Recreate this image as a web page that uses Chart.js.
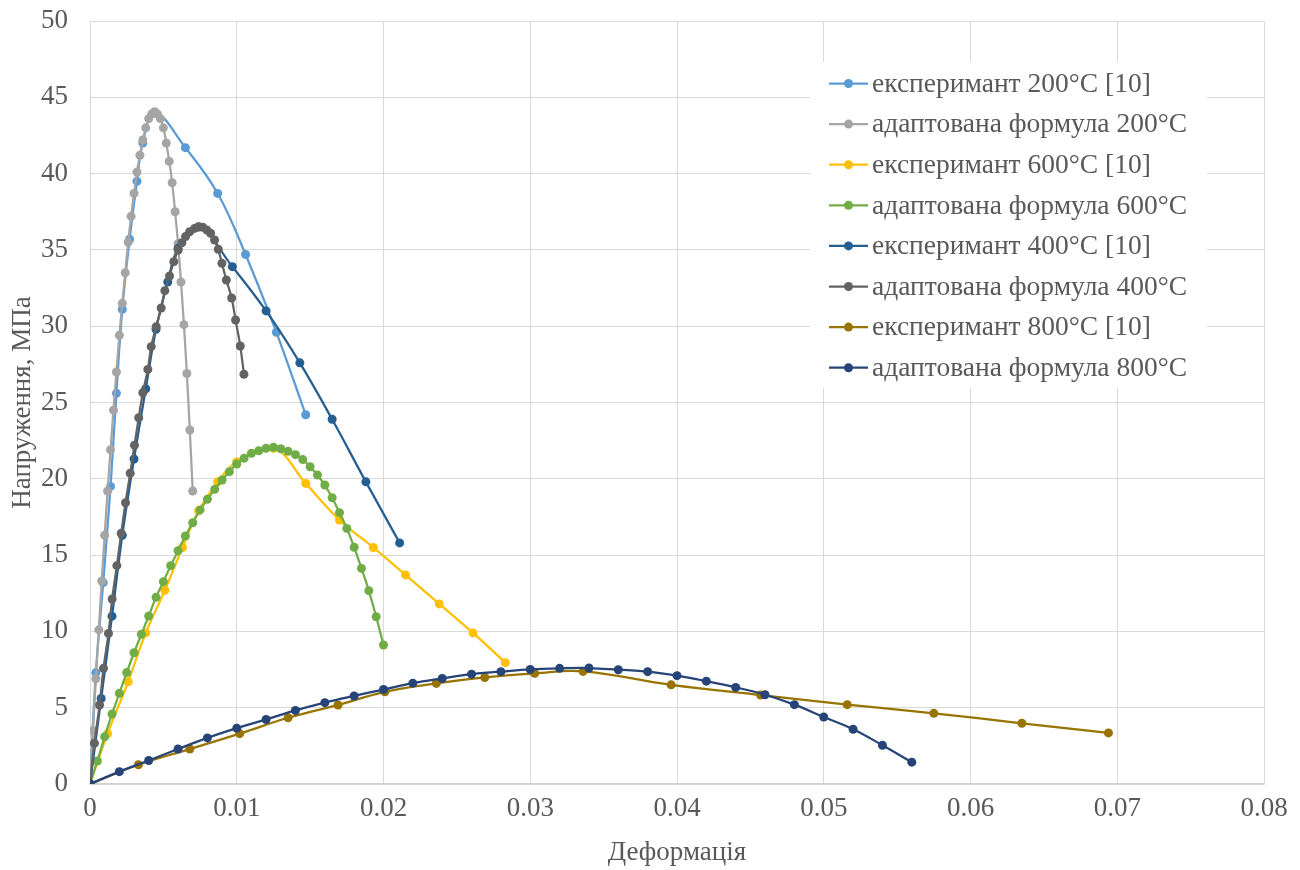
<!DOCTYPE html>
<html>
<head>
<meta charset="utf-8">
<script src="https://cdn.jsdelivr.net/npm/chart.js@4.4.1/dist/chart.umd.min.js"></script>
<style>
    html, body { margin: 0; padding: 0; background: #fff; }
    #wrap { width: 1300px; height: 870px; }
</style>
</head>
<body>
<div id="wrap"><canvas id="stressChart"></canvas></div>
<script>
// Series data (strain, stress in MPa)
const exp200X = [0, 0.0004, 0.0009, 0.0014, 0.0018, 0.0022, 0.0027, 0.0032, 0.0036, 0.0044, 0.0065, 0.0087, 0.0106, 0.0127, 0.0147];
const exp200Y = [0, 7.3, 13.2, 19.5, 25.6, 31.1, 35.7, 39.5, 42.0, 44.0, 41.7, 38.7, 34.7, 29.6, 24.2];

const form200X = [0, 0.0002, 0.0004, 0.0006, 0.0008, 0.001, 0.0012, 0.0014, 0.0016, 0.0018, 0.002, 0.0022, 0.0024, 0.0026, 0.0028, 0.003, 0.0032, 0.0034, 0.0036, 0.0038, 0.004, 0.0042, 0.0044, 0.0046, 0.0048, 0.005, 0.0052, 0.0054, 0.0056, 0.0058, 0.006, 0.0062, 0.0064, 0.0066, 0.0068, 0.007];
const form200Y = [0, 3.5, 6.9, 10.1, 13.3, 16.3, 19.2, 21.9, 24.5, 27.0, 29.4, 31.5, 33.5, 35.5, 37.2, 38.7, 40.1, 41.2, 42.2, 43.0, 43.6, 43.9, 44.06, 43.9, 43.6, 43.0, 42.0, 40.8, 39.4, 37.5, 35.4, 32.9, 30.1, 26.9, 23.2, 19.2];

const exp600X = [0, 0.0012, 0.0026, 0.0038, 0.0051, 0.0063, 0.0074, 0.0087, 0.0100, 0.0125, 0.0147, 0.0170, 0.0193, 0.0215, 0.0238, 0.0261, 0.0283];
const exp600Y = [0, 3.3, 6.7, 9.9, 12.7, 15.5, 17.9, 19.8, 21.1, 22.0, 19.7, 17.3, 15.5, 13.7, 11.8, 9.9, 7.95];

const form600X = [0, 0.0005, 0.001, 0.0015, 0.002, 0.0025, 0.003, 0.0035, 0.004, 0.0045, 0.005, 0.0055, 0.006, 0.0065, 0.007, 0.0075, 0.008, 0.0085, 0.009, 0.0095, 0.010, 0.0105, 0.011, 0.0115, 0.012, 0.0125, 0.013, 0.0135, 0.014, 0.0145, 0.015, 0.0155, 0.016, 0.0165, 0.017, 0.0175, 0.018, 0.0185, 0.019, 0.0195, 0.020];
const form600Y = [0, 1.51, 3.1, 4.59, 5.94, 7.3, 8.6, 9.81, 11.01, 12.23, 13.26, 14.31, 15.29, 16.25, 17.12, 17.96, 18.66, 19.31, 19.92, 20.47, 20.97, 21.34, 21.67, 21.84, 22.0, 22.06, 21.97, 21.8, 21.58, 21.26, 20.79, 20.25, 19.59, 18.76, 17.78, 16.75, 15.51, 14.13, 12.67, 10.96, 9.11];

const exp400X = [0, 0.00076, 0.0015, 0.0022, 0.0030, 0.0038, 0.0045, 0.0053, 0.0060, 0.0074, 0.0097, 0.0120, 0.0143, 0.0165, 0.0188, 0.0211];
const exp400Y = [0, 5.6, 11.0, 16.3, 21.3, 25.9, 29.8, 32.9, 35.1, 36.5, 33.9, 31.0, 27.6, 23.9, 19.8, 15.8];

const form400X = [0, 0.0003, 0.00065, 0.00092, 0.00126, 0.00151, 0.00183, 0.00213, 0.00242, 0.00274, 0.00303, 0.00332, 0.0036, 0.00394, 0.00417, 0.00451, 0.00485, 0.0051, 0.00542, 0.00571, 0.00601, 0.00626, 0.00651, 0.00679, 0.00713, 0.0074, 0.00769, 0.00797, 0.00822, 0.00849, 0.00874, 0.00899, 0.00929, 0.00965, 0.00992, 0.01024, 0.01049];
const form400Y = [0, 2.67, 5.18, 7.58, 9.87, 12.12, 14.31, 16.43, 18.43, 20.36, 22.2, 24.0, 25.64, 27.17, 28.66, 29.97, 31.19, 32.33, 33.29, 34.23, 34.99, 35.47, 35.87, 36.19, 36.41, 36.52, 36.48, 36.3, 36.09, 35.65, 35.04, 34.12, 33.03, 31.85, 30.41, 28.7, 26.85];

const exp800X = [0, 0.0033, 0.0068, 0.0102, 0.0135, 0.0169, 0.0201, 0.0236, 0.0269, 0.0303, 0.0336, 0.0396, 0.0457, 0.0516, 0.0575, 0.0635, 0.0694];
const exp800Y = [0, 1.26, 2.29, 3.30, 4.34, 5.18, 6.04, 6.59, 6.98, 7.25, 7.38, 6.5, 5.83, 5.2, 4.63, 3.98, 3.35];

const form800X = [0, 0.002, 0.004, 0.006, 0.008, 0.010, 0.012, 0.014, 0.016, 0.018, 0.020, 0.022, 0.024, 0.026, 0.028, 0.030, 0.032, 0.034, 0.036, 0.038, 0.040, 0.042, 0.044, 0.046, 0.048, 0.050, 0.052, 0.054, 0.056];
const form800Y = [0, 0.81, 1.54, 2.29, 3.02, 3.66, 4.23, 4.82, 5.33, 5.77, 6.19, 6.61, 6.92, 7.2, 7.36, 7.51, 7.58, 7.6, 7.49, 7.36, 7.1, 6.74, 6.33, 5.85, 5.2, 4.39, 3.59, 2.54, 1.43];

const seriesLabels = [
    "експеримант 200°C [10]",
    "адаптована формула 200°C",
    "експеримант 600°C [10]",
    "адаптована формула 600°C",
    "експеримант 400°C [10]",
    "адаптована формула 400°C",
    "експеримант 800°C [10]",
    "адаптована формула 800°C"
];
const seriesColors = ["#5b9bd5", "#a5a5a5", "#ffc000", "#70ad47", "#255e91", "#636363", "#997300", "#264478"];
const seriesX = [exp200X, form200X, exp600X, form600X, exp400X, form400X, exp800X, form800X];
const seriesY = [exp200Y, form200Y, exp600Y, form600Y, exp400Y, form400Y, exp800Y, form800Y];

const xTicksMax = 0.08;
const yTicksMax = 50;

const FONT = "'Liberation Serif', 'Times New Roman', serif";
const TEXT_COLOR = "#595959";
const GRID_COLOR = "#d9d9d9";
const FONT_SIZE = 27;

const datasets = seriesLabels.map((label, i) => ({
    label: label,
    data: seriesX[i].map((x, j) => ({ x: x, y: seriesY[i][j] })),
    borderColor: seriesColors[i],
    backgroundColor: seriesColors[i],
    borderWidth: 2.25,
    pointRadius: 4.5,
    pointBorderWidth: 0,
    pointHoverRadius: 4.5,
    tension: 0.4,
    showLine: true,
    // Excel draws later series on top
    order: seriesLabels.length - i
}));

// Legend drawn inside the plot area, like the Excel one
const insideLegend = {
    id: "insideLegend",
    afterDraw(chart) {
        const ctx = chart.ctx;
        const box = { left: 810, top: 62, width: 397, height: 326 };
        const rowH = 40.6;
        const firstY = 83.5;
        ctx.save();
        ctx.fillStyle = "#ffffff";
        ctx.fillRect(box.left, box.top, box.width, box.height);
        ctx.font = "27.5px " + FONT;
        ctx.textBaseline = "middle";
        ctx.textAlign = "left";
        chart.data.datasets.forEach((ds, i) => {
            const y = firstY + i * rowH;
            ctx.strokeStyle = ds.borderColor;
            ctx.lineWidth = 2.25;
            ctx.beginPath();
            ctx.moveTo(829, y);
            ctx.lineTo(868, y);
            ctx.stroke();
            ctx.fillStyle = ds.backgroundColor;
            ctx.beginPath();
            ctx.arc(848.5, y, 4.5, 0, Math.PI * 2);
            ctx.fill();
            ctx.fillStyle = TEXT_COLOR;
            ctx.fillText(ds.label, 872, y + 1);
        });
        ctx.restore();
    }
};

const ctx = document.getElementById("stressChart").getContext("2d");
const stressChart = new Chart(ctx, {
    type: "scatter",
    data: { datasets: datasets },
    plugins: [insideLegend],
    options: {
        responsive: true,
        maintainAspectRatio: false,
        animation: false,
        layout: {
            padding: { top: 21, right: 36, left: 0, bottom: 0 }
        },
        plugins: {
            legend: { display: false },
            tooltip: { enabled: false }
        },
        scales: {
            x: {
                type: "linear",
                min: 0,
                max: xTicksMax,
                afterFit: (scale) => { scale.height = 86; },
                ticks: {
                    stepSize: 0.01,
                    padding: 9,
                    color: TEXT_COLOR,
                    font: { family: FONT, size: FONT_SIZE },
                    maxRotation: 0,
                    callback: (v) => String(+v.toFixed(2))
                },
                grid: { color: GRID_COLOR, lineWidth: 1, drawTicks: false },
                border: { color: "#d0d0d0", width: 1.5 },
                title: {
                    display: true,
                    text: "Деформація",
                    color: TEXT_COLOR,
                    font: { family: FONT, size: FONT_SIZE },
                    padding: { top: 0, bottom: 1 }
                }
            },
            y: {
                type: "linear",
                min: 0,
                max: yTicksMax,
                afterFit: (scale) => {
                    scale.width = 90;
                    scale.paddingTop = 0;
                    scale.paddingBottom = 0;
                },
                ticks: {
                    stepSize: 5,
                    padding: 22,
                    color: TEXT_COLOR,
                    font: { family: FONT, size: FONT_SIZE }
                },
                grid: { color: GRID_COLOR, lineWidth: 1, drawTicks: false },
                border: { color: GRID_COLOR, width: 1 },
                title: {
                    display: true,
                    text: "Напруження, МПа",
                    color: TEXT_COLOR,
                    font: { family: FONT, size: FONT_SIZE },
                    padding: { top: 7, bottom: 0 }
                }
            }
        }
    }
});
</script>
</body>
</html>
